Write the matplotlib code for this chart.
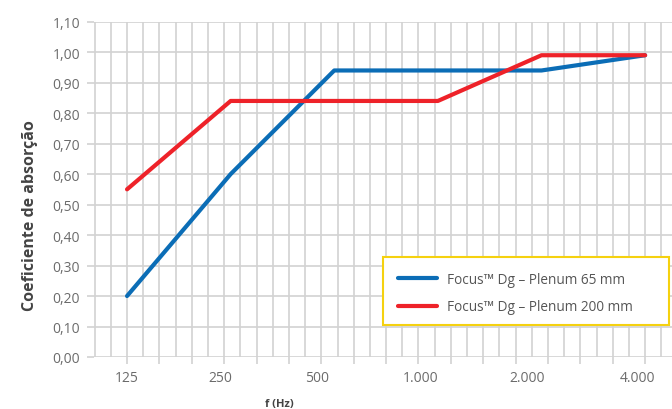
import numpy as np
import matplotlib.pyplot as plt
from matplotlib.patches import Rectangle

freqs = [125, 250, 500, 1000, 2000, 4000]
freq_labels = ['125', '250', '500', '1.000', '2.000', '4.000']
plenum_65 = [0.20, 0.60, 0.94, 0.94, 0.94, 0.99]
plenum_200 = [0.55, 0.84, 0.84, 0.84, 0.99, 0.99]
y_labels = ['0,00', '0,10', '0,20', '0,30', '0,40', '0,50', '0,60',
            '0,70', '0,80', '0,90', '1,00', '1,10']

plt.rcParams['font.family'] = ['Open Sans', 'DejaVu Sans']

fig = plt.figure(figsize=(6.72, 4.10), dpi=100)
ax = fig.add_axes([94 / 672, 1 - 358 / 410, 1 - 94 / 672, (358 - 22.7) / 410])

# x in axis units: 16 ticks span 125..4000
x = np.log2(np.array(freqs) / 125) * 3.2

grid_c = '#d2d2d2'
for gx in np.arange(-1, 17, 0.5):
    ax.axvline(gx, color=grid_c, lw=1.2, zorder=1)
for gy in np.arange(0, 1.11, 0.1):
    ax.axhline(gy, color=grid_c, lw=1.2, zorder=1)

l65, = ax.plot(x, plenum_65, color='#0b6db6', lw=3, solid_capstyle='round',
               label='Focus\u2122 Dg \u2013 Plenum 65 mm', zorder=3)
l200, = ax.plot(x, plenum_200, color='#ee2229', lw=3, solid_capstyle='round',
                label='Focus\u2122 Dg \u2013 Plenum 200 mm', zorder=3)

ax.set_xlim(-1.02, 16.83)
ax.set_ylim(0, 1.10)
for s in ax.spines.values():
    s.set_visible(False)

ax.set_yticks(np.arange(0, 1.11, 0.1))
ax.set_yticklabels(y_labels, color='#6b6b6b', fontsize=10)
ax.tick_params(axis='y', length=5, color=grid_c, width=1.2, pad=5)

ax.set_xticks(np.arange(0, 17, 1))
ax.set_xticklabels([])
ax.tick_params(axis='x', length=5, color=grid_c, width=1.2)
label_pos = [0, 2.87, 5.87, 9.08, 12.35, 15.75]
for lp, lab in zip(label_pos, freq_labels):
    ax.text(lp, -0.068, lab, ha='center', va='center', color='#6b6b6b',
            fontsize=10)

ax.text(4.7, -0.152, 'f (Hz)', ha='center', va='center', color='#444444',
        fontsize=8, fontweight='bold')
fig.text(30 / 672, 0.475, 'Coeficiente de absorção', rotation=90,
         ha='center', va='center', color='#444444', fontsize=11.5,
         fontweight='bold')

# legend box drawn by hand (yellow border), entries without frame
box = Rectangle((383 / 672, 1 - 326 / 410), (669 - 383) / 672, 68 / 410,
                transform=fig.transFigure, facecolor='white',
                edgecolor='#f5d10f', lw=1.5, zorder=4)
fig.patches.append(box)
leg = fig.legend(handles=[l65, l200], loc='center left',
                 bbox_to_anchor=(398 / 672, 1 - 294 / 410),
                 frameon=False, fontsize=9.8, handlelength=2.9,
                 labelcolor='#555555', borderpad=0, labelspacing=0.95,
                 handletextpad=0.7, borderaxespad=0)
leg.set_zorder(5)

fig.savefig('out.png', dpi=100)
